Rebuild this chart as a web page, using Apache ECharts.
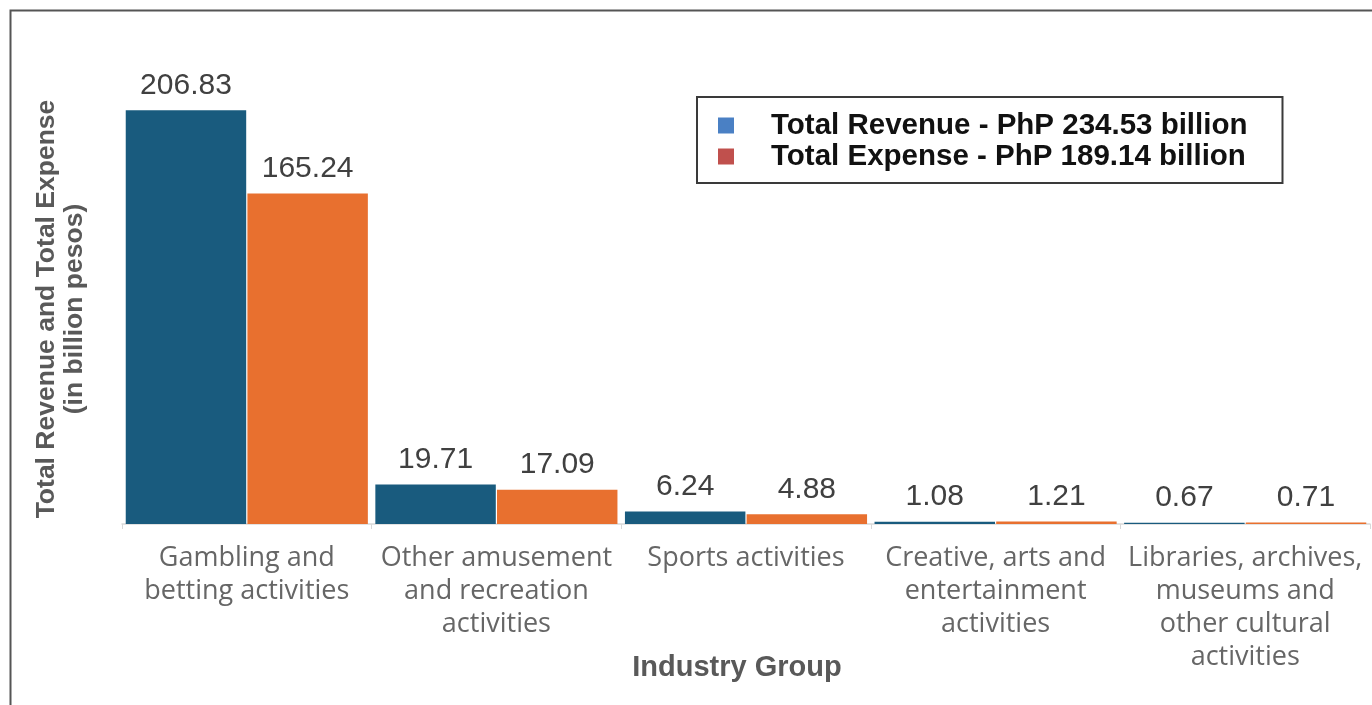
<!DOCTYPE html>
<html>
<head>
<meta charset="utf-8">
<script src="https://cdn.jsdelivr.net/npm/echarts@6/dist/echarts.min.js"></script>
<style>
html,body{margin:0;padding:0;background:#fff;}
#chart{width:1372px;height:705px;}
</style>
</head>
<body>
<div id="chart"></div>
<script>
const categories = [
  "Gambling and\nbetting activities",
  "Other amusement\nand recreation\nactivities",
  "Sports activities",
  "Creative, arts and\nentertainment\nactivities",
  "Libraries, archives,\nmuseums and\nother cultural\nactivities"
];
const revenueName = "Total Revenue - PhP 234.53 billion";
const expenseName = "Total Expense - PhP 189.14 billion";
const revenue = [206.83, 19.71, 6.24, 1.08, 0.67];
const expense = [165.24, 17.09, 4.88, 1.21, 0.71];
const yTitle = "Total Revenue and Total Expense\n(in billion pesos)";
const xTitle = "Industry Group";

const chart = echarts.init(document.getElementById('chart'));
const labelStyle = {
  show: true, position: 'top', distance: 10,
  fontFamily: 'Liberation Sans', fontSize: 30, color: '#404040',
  formatter: p => p.value.toFixed(2)
};
chart.setOption({
  animation: false,
  backgroundColor: '#fff',
  grid: {left: 122, right: 2, top: 84, bottom: 181, containLabel: false},
  legend: {
    orient: 'vertical', left: 697, top: 97,
    padding: [13, 35, 11, 21],
    borderColor: '#3a3a3a', borderWidth: 2,
    icon: 'rect', itemWidth: 16, itemHeight: 16, itemGap: 0,
    textStyle: {fontFamily: 'Liberation Sans', fontWeight: 'bold', fontSize: 29.5, color: '#111', lineHeight: 31, padding: [0, 0, 0, 32]},
    data: [
      {name: revenueName, itemStyle: {color: '#4a80c4'}},
      {name: expenseName, itemStyle: {color: '#c0504d'}}
    ]
  },
  xAxis: {
    type: 'category', data: categories,
    axisLine: {lineStyle: {color: '#d9d9d9', width: 1.5}},
    axisTick: {show: true, length: 5, lineStyle: {color: '#d9d9d9'}},
    axisLabel: {interval: 0, margin: 18, fontFamily: 'Open Sans', fontSize: 27, lineHeight: 33, color: '#666666', align: 'center'}
  },
  yAxis: {type: 'value', min: 0, max: 220, show: false, splitLine: {show: false}},
  series: [
    {name: revenueName, type: 'bar', data: revenue, barGap: '1%', barCategoryGap: '3%',
     itemStyle: {color: '#195b7e'}, label: labelStyle},
    {name: expenseName, type: 'bar', data: expense,
     itemStyle: {color: '#e8702f'}, label: labelStyle}
  ],
  graphic: [
    {type: 'rect', left: 8, top: 8, shape: {width: 1400, height: 720}, style: {fill: 'none', stroke: '#555', lineWidth: 2}, silent: true},
    {type: 'text', x: 61, y: 309, rotation: Math.PI / 2,
     style: {text: yTitle, fontFamily: 'Liberation Sans', fontWeight: 'bold', fontSize: 26.5, lineHeight: 28, fill: '#595959', textAlign: 'center', textVerticalAlign: 'middle'}},
    {type: 'text', x: 737, y: 668,
     style: {text: xTitle, fontFamily: 'Liberation Sans', fontWeight: 'bold', fontSize: 29, fill: '#595959', textAlign: 'center', textVerticalAlign: 'middle'}}
  ]
});
</script>
</body>
</html>
